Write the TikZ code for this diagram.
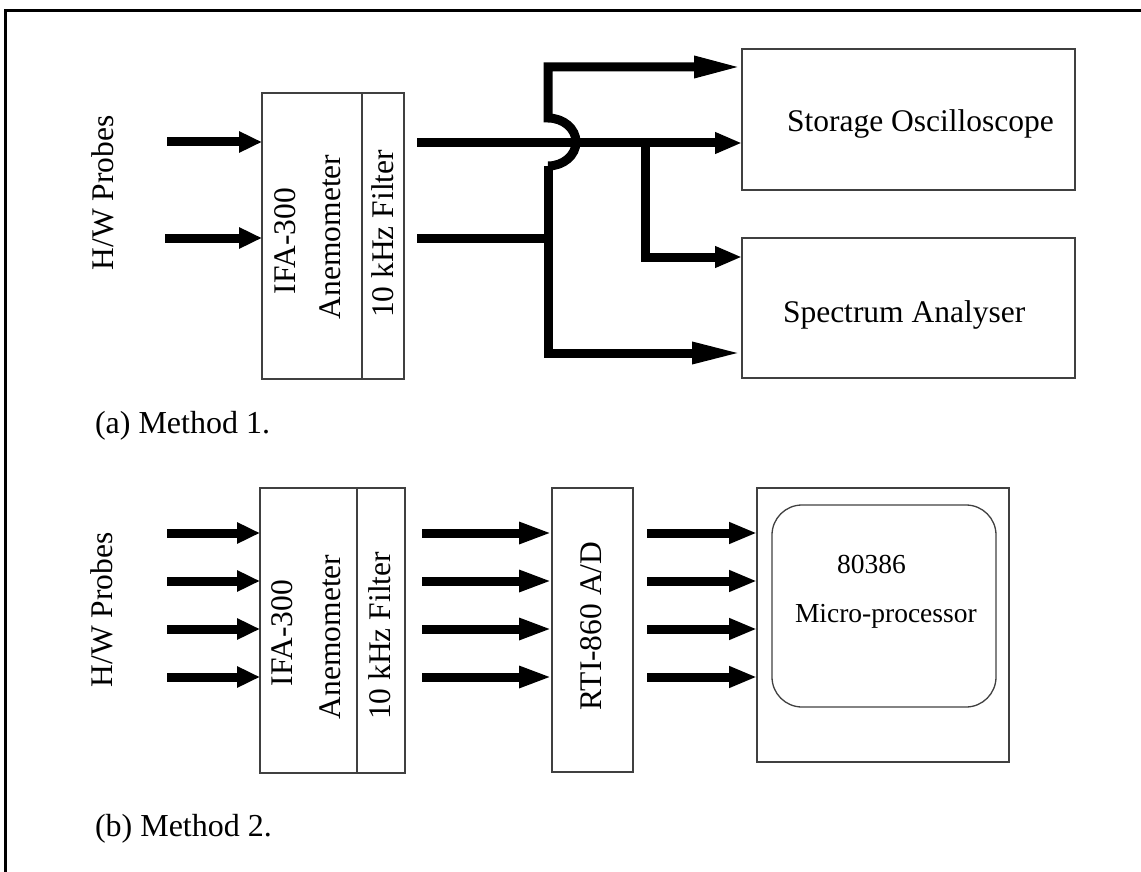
\documentclass[tikz,border=0pt]{standalone}
\usepackage{fontspec}
\setmainfont{Liberation Serif}
\usetikzlibrary{arrows.meta,calc}
\begin{document}
\begin{tikzpicture}[x=1pt,y=-1pt,
  box/.style={draw=black!75, line width=1.3pt, inner sep=0pt, outer sep=0pt, anchor=north west},
  lbl/.style={font=\fontsize{31.5}{36}\selectfont, inner sep=0pt, outer sep=0pt},
  vlbl/.style={lbl, rotate=90, anchor=base},
  hlbl/.style={lbl, anchor=base west},
  plbl/.style={hlbl, font=\fontsize{27.5}{32}\selectfont},
  wire/.style={line width=9pt},
  arr/.style={wire, -{Triangle[length=#1, width=20pt]}},
  arr/.default=27pt
]
\useasboundingbox (0,0) rectangle (1141,872);
\draw[line width=3pt] (5,872) -- (5,11) -- (1141,11);

% ---------- (a) Method 1 ----------
\node[box, minimum width=100pt, minimum height=286pt] (ifaA) at (262,93) {};
\node[box, minimum width=42pt, minimum height=286pt] (filA) at (362,93) {};
\node[box, minimum width=333pt, minimum height=141pt] (stor) at (742,49) {};
\node[box, minimum width=333pt, minimum height=140pt] (spec) at (742,238) {};

\node[vlbl] (probA) at (113,193) {H/W Probes};
\node[vlbl] (ifaAt) at (295,241) {IFA-300};
\node[vlbl] (anemA) at (340,237) {Anemometer};
\node[vlbl] (filAt) at (393,234) {10 kHz Filter};
\node[hlbl] (storT) at (787,132) {Storage Oscilloscope};
\node[hlbl] (specT) at (783,322) {Spectrum Analyser};
\node[hlbl, font=\fontsize{32}{36}\selectfont] (capA) at (95,433) {(a) Method 1.};

\coordinate (a1) at (167,142);
\coordinate (a2) at (165,238);
\draw[arr=23pt] (a1) -- (a1 -| ifaA.west);
\draw[arr=23pt] (a2) -- (a2 -| ifaA.west);

\coordinate (o1) at (417,143);
\draw[arr=27pt] (o1) -- (o1 -| stor.west);
\coordinate (b1) at (645,138.5);
\coordinate (b2) at (645,257);
\draw[arr=27pt] (b1) -- (b2) -- (b2 -| spec.west);

\coordinate (o2) at (417,238);
\coordinate (j) at (553,238);
\draw[wire] (o2) -- (j);
\coordinate (jb) at (548,166);
\coordinate (t1) at (548,67);
\coordinate (t2) at (548,353);
\draw[arr=48pt] (jb) arc[start angle=90, end angle=-90, x radius=28, y radius=24] -- (t1) -- (t1 -| stor.west);
\draw[arr=50pt] (jb) -- (t2) -- (t2 -| spec.west);

% ---------- (b) Method 2 ----------
\node[box, minimum width=97pt, minimum height=285pt] (ifaB) at (260,488) {};
\node[box, minimum width=48pt, minimum height=285pt] (filB) at (357,488) {};
\node[box, minimum width=81pt, minimum height=284pt] (rti) at (552,488) {};
\node[box, minimum width=252pt, minimum height=274pt] (proc) at (757,488) {};
\node[box, rounded corners=30pt, minimum width=224pt, minimum height=202pt] (cpu) at (772,505) {};

\node[vlbl] (probB) at (112,610) {H/W Probes};
\node[vlbl] (ifaBt) at (292,633) {IFA-300};
\node[vlbl] (anemB) at (340,637) {Anemometer};
\node[vlbl] (filBt) at (390,636) {10 kHz Filter};
\node[vlbl] (rtiT) at (601,626) {RTI-860 A/D};
\node[plbl] (cpuA) at (837,573) {80386};
\node[plbl] (cpuB) at (795,622) {Micro-processor};
\node[hlbl, font=\fontsize{32}{36}\selectfont] (capB) at (95,836) {(b) Method 2.};

\foreach \y/\n in {533/1,581/2,629/3,677/4} {
  \coordinate (p\n) at (167,\y);
  \draw[arr=23pt] (p\n) -- (p\n -| ifaB.west);
  \coordinate (q\n) at (422,\y);
  \draw[arr=33pt] (q\n) -- (q\n -| rti.west);
  \coordinate (r\n) at (647,\y);
  \draw[arr=28pt] (r\n) -- (r\n -| proc.west);
}
\end{tikzpicture}
\end{document}
